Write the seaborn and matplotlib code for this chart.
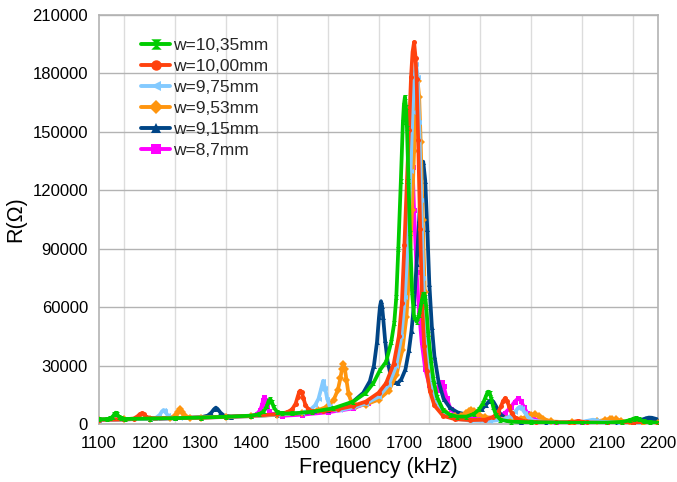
import matplotlib
matplotlib.use("Agg")
import matplotlib.pyplot as plt
import seaborn as sns
from matplotlib.path import Path
from matplotlib.lines import Line2D
from matplotlib.ticker import FixedLocator

# ---- data: resistance R (ohm) versus frequency (kHz) for six widths ----
labels = ["w=10,35mm", "w=10,00mm", "w=9,75mm", "w=9,53mm", "w=9,15mm", "w=8,7mm"]

f_1035 = [1100, 1115, 1122, 1127, 1130, 1133, 1136, 1139, 1144, 1152, 1200, 1250, 1300, 1350, 1400,
          1415, 1424, 1430, 1434, 1437, 1440, 1444, 1450, 1460, 1480, 1520, 1560, 1600, 1625, 1640,
          1653, 1665, 1675, 1681, 1685, 1689, 1694, 1698, 1700, 1702, 1704, 1706, 1709, 1712, 1716,
          1720, 1725, 1730, 1735, 1738, 1740, 1742, 1744, 1748, 1753, 1758, 1765, 1777, 1790, 1805,
          1823, 1838, 1848, 1856, 1861, 1864, 1866, 1869, 1872, 1876, 1881, 1890, 1910, 1950, 2000,
          2050, 2100, 2130, 2145, 2152, 2157, 2163, 2172, 2185, 2200]
r_1035 = [2400, 2500, 2900, 3800, 5000, 5800, 5000, 3800, 2900, 2600, 2800, 3000, 3300, 3700, 4300,
          5000, 6500, 9000, 12000, 12800, 11500, 8500, 6300, 5400, 5400, 6300, 8000, 11500, 16000, 21000,
          27700, 32000, 42000, 52000, 65000, 90000, 125000, 155000, 164000, 168000, 163000, 152000, 125000, 98000, 68000,
          55000, 52500, 56000, 63000, 66500, 67000, 65000, 60000, 46000, 33000, 23000, 14000, 7200, 4800, 3800,
          3800, 5200, 7500, 10800, 14000, 16000, 16600, 15800, 13000, 8500, 4800, 2200, 1200, 900, 700,
          600, 700, 1100, 2000, 2800, 3000, 2400, 1300, 800, 700]

f_1000 = [1100, 1150, 1168, 1175, 1180, 1184, 1188, 1193, 1200, 1250, 1300, 1350, 1400, 1450, 1470,
          1480, 1487, 1491, 1494, 1496, 1499, 1502, 1506, 1512, 1520, 1540, 1570, 1600, 1625, 1650,
          1665, 1680, 1690, 1696, 1701, 1706, 1710, 1714, 1717, 1720, 1723, 1725, 1728, 1732, 1736,
          1740, 1745, 1751, 1760, 1777, 1800, 1830, 1860, 1875, 1885, 1891, 1895, 1899, 1903, 1907,
          1912, 1920, 1935, 1960, 2000, 2025, 2035, 2043, 2050, 2060, 2100, 2150, 2200]
r_1000 = [2200, 2400, 2800, 3800, 5000, 5500, 5000, 3800, 3000, 3000, 3300, 3700, 4200, 5000, 6000,
          7500, 10500, 14000, 16500, 17100, 16200, 13500, 10000, 7500, 6600, 6600, 7600, 9300, 11500, 16000,
          21000, 31000, 45000, 62000, 92000, 125000, 151000, 178000, 191000, 196000, 188000, 177000, 146000, 100000, 60000,
          40000, 27000, 17000, 9500, 4200, 2500, 2000, 2200, 3500, 5800, 9000, 11800, 13200, 11800, 9000,
          5500, 3000, 1600, 1000, 800, 900, 1200, 1600, 1200, 800, 600, 600, 600]

f_975 = [1100, 1150, 1200, 1212, 1219, 1224, 1227, 1230, 1235, 1242, 1260, 1300, 1350, 1400, 1450,
         1500, 1515, 1525, 1532, 1537, 1541, 1545, 1549, 1554, 1562, 1575, 1600, 1625, 1650, 1670,
         1685, 1695, 1702, 1708, 1713, 1717, 1721, 1724, 1727, 1730, 1734, 1738, 1742, 1747, 1753,
         1762, 1777, 1800, 1830, 1870, 1895, 1908, 1918, 1924, 1928, 1932, 1938, 1945, 1955, 1980,
         2030, 2055, 2066, 2072, 2078, 2090, 2120, 2160, 2200]
r_975 = [2200, 2400, 2700, 3200, 4500, 6500, 7200, 6500, 4500, 3200, 3000, 3300, 3600, 4000, 4800,
         5800, 7200, 9500, 13000, 18000, 22200, 18500, 13000, 9000, 7300, 7200, 8500, 10500, 14000, 20000,
         30000, 45000, 65000, 95000, 130000, 160000, 180000, 185000, 178000, 155000, 115000, 75000, 48000, 30000, 19000,
         10500, 5000, 2800, 1700, 1500, 2300, 3800, 6000, 8000, 8900, 8000, 5800, 3300, 1700, 900,
         800, 1300, 1900, 2200, 1900, 1100, 700, 600, 600]

f_953 = [1100, 1150, 1200, 1240, 1249, 1255, 1259, 1263, 1269, 1280, 1300, 1350, 1400, 1450, 1500,
         1530, 1550, 1562, 1570, 1575, 1578, 1581, 1584, 1587, 1591, 1597, 1605, 1625, 1650, 1670,
         1685, 1697, 1705, 1711, 1716, 1720, 1724, 1727, 1730, 1733, 1737, 1741, 1745, 1750, 1757,
         1765, 1780, 1800, 1812, 1822, 1829, 1833, 1838, 1845, 1860, 1900, 1930, 1942, 1950, 1958,
         1965, 1973, 1990, 2030, 2080, 2095, 2105, 2110, 2117, 2128, 2145, 2170, 2200]
r_953 = [2200, 2400, 2700, 3100, 4000, 6000, 7500, 6000, 4000, 3200, 3300, 3600, 4000, 4700, 5600,
         7000, 9000, 12500, 17500, 23500, 28000, 30800, 28000, 22500, 15500, 11000, 9200, 10000, 12500, 17000,
         25000, 38000, 55000, 80000, 110000, 140000, 165000, 176000, 168000, 145000, 105000, 68000, 45000, 30000, 18000,
         10500, 6000, 4000, 4000, 5500, 6800, 7200, 6600, 5000, 3500, 2500, 2800, 3800, 4700, 5100,
         4300, 2800, 1300, 800, 1300, 2100, 2600, 2700, 2400, 1600, 900, 700, 600]

f_915 = [1100, 1150, 1200, 1250, 1300, 1314, 1321, 1326, 1330, 1334, 1339, 1346, 1360, 1400, 1450,
         1500, 1550, 1580, 1600, 1620, 1633, 1641, 1647, 1651, 1653, 1655, 1657, 1659, 1663, 1668,
         1674, 1680, 1688, 1695, 1703, 1710, 1715, 1720, 1725, 1730, 1734, 1738, 1742, 1746, 1750,
         1755, 1760, 1768, 1778, 1790, 1805, 1820, 1840, 1853, 1862, 1868, 1872, 1876, 1882, 1890,
         1905, 1930, 1980, 2050, 2120, 2150, 2166, 2176, 2182, 2188, 2195, 2200]
r_915 = [2200, 2400, 2700, 3000, 3400, 4300, 5800, 7500, 8400, 7500, 5800, 4300, 3800, 4100, 4800,
         5600, 7000, 9000, 11500, 16000, 22000, 30000, 42000, 55000, 60500, 63000, 60500, 55000, 43000, 32000,
         25000, 21500, 21000, 23000, 28000, 38000, 48000, 62000, 82000, 105000, 125000, 134700, 125000, 100000, 72000,
         50000, 35000, 22000, 13000, 8500, 6000, 5000, 5500, 7500, 10000, 11800, 12300, 11500, 8800, 5000,
         2000, 1000, 700, 600, 700, 1100, 2000, 2900, 3300, 3200, 2700, 2300]

f_87 = [1100, 1150, 1200, 1250, 1300, 1350, 1400, 1410, 1417, 1421, 1423, 1425, 1427, 1430, 1434,
        1440, 1460, 1500, 1550, 1600, 1630, 1650, 1670, 1685, 1695, 1700, 1705, 1709, 1711, 1713,
        1715, 1717, 1720, 1725, 1730, 1735, 1742, 1750, 1758, 1765, 1770, 1774, 1778, 1784, 1792,
        1805, 1820, 1850, 1880, 1898, 1910, 1918, 1925, 1930, 1936, 1943, 1955, 1975, 2000, 2050,
        2100, 2150, 2200]
r_87 = [2200, 2400, 2700, 3000, 3300, 3600, 4200, 5000, 7000, 10000, 12500, 13700, 12500, 9500, 6800,
        5000, 4200, 4800, 6000, 8000, 11000, 14000, 20000, 30000, 45000, 58000, 85000, 120000, 138000, 150000,
        146000, 132000, 110000, 78000, 57000, 42000, 28000, 20000, 16000, 17500, 20500, 21700, 19500, 13500, 7500,
        4500, 3200, 2800, 3500, 5500, 8500, 11500, 13200, 12000, 8800, 5500, 2600, 1300, 900, 600,
        600, 600, 500]

freqs = [f_1035, f_1000, f_975, f_953, f_915, f_87]
values = [r_1035, r_1000, r_975, r_953, r_915, r_87]

colors = ["#00cc00", "#ff420e", "#83caff", "#ff950e", "#004586", "#ff00ff"]
hourglass = Path([(-1, 1), (1, 1), (-1, -1), (1, -1), (-1, 1)],
                 [Path.MOVETO, Path.LINETO, Path.LINETO, Path.LINETO, Path.CLOSEPOLY])
markers = [hourglass, "o", "<", "D", "^", "s"]

x_ticks = list(range(1100, 2201, 100))
x_grid = list(range(1150, 2151, 100))
y_ticks = list(range(0, 210001, 30000))

# ---- figure ----
sns.set_theme(style="white")
plt.rcParams["font.family"] = ["Liberation Sans", "DejaVu Sans"]

fig = plt.figure(figsize=(6.77, 4.82), dpi=100)
ax = fig.add_axes([99 / 677, 1 - 424 / 482, 559 / 677, 409 / 482])

# last legend entry underneath, first one on top
for i in reversed(range(len(labels))):
    sns.lineplot(x=freqs[i], y=values[i], ax=ax, color=colors[i], marker=markers[i],
                 markersize=3.6, markeredgewidth=0, linewidth=2.7, legend=False, zorder=3 + (6 - i))

ax.set_xlim(1100, 2200)
ax.set_ylim(0, 210000)
ax.set_xticks(x_ticks)
ax.set_yticks(y_ticks)
ax.set_yticklabels([str(v) for v in y_ticks])
ax.xaxis.set_minor_locator(FixedLocator(x_grid))

ax.grid(False)
ax.grid(which="minor", axis="x", color="#dcdcdc", linewidth=1)
ax.grid(which="major", axis="y", color="#b3b3b3", linewidth=1)
ax.set_axisbelow(True)

ax.tick_params(axis="both", which="major", direction="out", length=6, width=1,
               color="#b3b3b3", labelsize=12, labelcolor="black", pad=2)
ax.tick_params(axis="both", which="minor", length=0)
ax.tick_params(axis="x", which="major", length=5, pad=4)
for s in ax.spines.values():
    s.set_color("#b3b3b3")
    s.set_linewidth(1.2)

ax.set_xlabel("Frequency (kHz)", fontsize=15.5, color="black")
ax.set_ylabel("R(Ω)", fontsize=15.5, color="black")
ax.xaxis.set_label_coords(0.5, -0.08)
ax.yaxis.set_label_coords(-0.13, 0.5)

handles = [Line2D([], [], color=c, marker=m, markersize=7.5, markeredgewidth=0, linewidth=2.8)
           for c, m in zip(colors, markers)]
ax.legend(handles, labels, loc="upper left", bbox_to_anchor=(0.076, 0.943), frameon=False,
          fontsize=12.5, handlelength=1.65, handletextpad=0.15, labelspacing=0.33,
          borderaxespad=0, borderpad=0)

fig.savefig("out.png", dpi=100)
